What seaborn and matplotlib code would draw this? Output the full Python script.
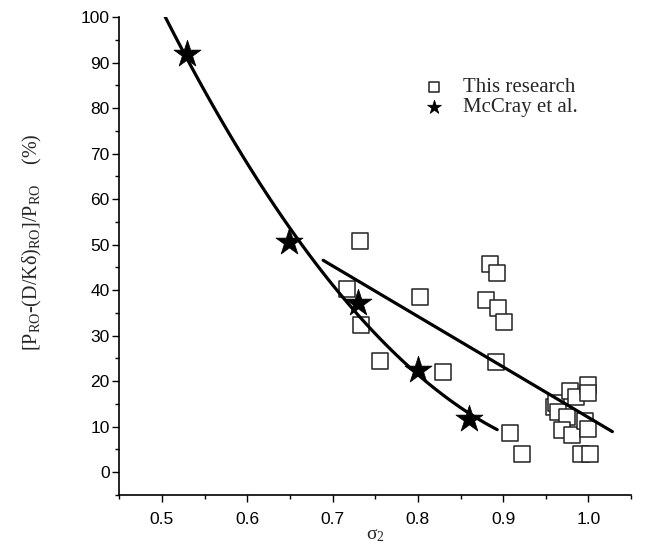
import matplotlib
matplotlib.use("Agg")
import matplotlib.pyplot as plt
import seaborn as sns
import pandas as pd
from matplotlib.ticker import MultipleLocator

# ---- data ----
this_x = [0.7316, 0.7171, 0.7328, 0.7555, 0.8024, 0.8290, 0.8846, 0.8932,
          0.8803, 0.8944, 0.9010, 0.8912, 0.9077, 0.9225,
          0.9600, 0.9620, 0.9640, 0.9750, 0.9695, 0.9780, 0.9850, 0.9810,
          0.9957, 0.9996, 0.9996, 0.9996, 0.9910, 1.0015]
this_y = [50.9, 40.2, 32.3, 24.5, 38.5, 22.1, 45.7, 43.7,
          37.9, 36.0, 32.9, 24.2, 8.7, 3.9,
          14.4, 15.2, 13.2, 12.2, 9.3, 17.9, 16.5, 8.2,
          11.3, 9.5, 19.2, 17.5, 3.9, 4.1]
mccray_x = [0.5293, 0.6494, 0.7297, 0.8001, 0.8600]
mccray_y = [91.8, 50.5, 37.2, 22.4, 11.8]

fit_span_this = (0.689, 1.028)     # extent of the fitted line (this research)
fit_span_mccray = (0.503, 0.893)   # extent of the fitted curve (McCray)

x_limits = (0.45, 1.05)
y_limits = (-5, 100)
x_major = [0.5, 0.6, 0.7, 0.8, 0.9, 1.0]
x_labels = ["0.5", "0.6", "0.7", "0.8", "0.9", "1.0"]
y_major = [0, 10, 20, 30, 40, 50, 60, 70, 80, 90, 100]

df_this = pd.DataFrame({"x": this_x, "y": this_y})
df_mc = pd.DataFrame({"x": mccray_x, "y": mccray_y})

sns.set_style("ticks")
plt.rcParams["font.family"] = ["Liberation Sans", "DejaVu Sans"]
plt.rcParams["mathtext.fontset"] = "custom"
plt.rcParams["mathtext.rm"] = "Liberation Serif"
plt.rcParams["mathtext.it"] = "Liberation Serif:italic"

fig = plt.figure(figsize=(6.7, 5.5), dpi=100)
ax = fig.add_axes([0.178, 0.1, 0.764, 0.869])

# squares (this research)
sns.scatterplot(data=df_this, x="x", y="y", marker="s", s=120,
                facecolor="white", edgecolor="#222222", linewidth=1.1,
                label="This research", zorder=2, ax=ax)

# fitted line for this research
ax.set_xlim(*fit_span_this)
sns.regplot(data=df_this, x="x", y="y", order=1, scatter=False, ci=None,
            truncate=False, color="black", line_kws=dict(lw=2.3, zorder=3),
            ax=ax)

# fitted curve for McCray
ax.set_xlim(*fit_span_mccray)
sns.regplot(data=df_mc, x="x", y="y", order=2, scatter=False, ci=None,
            truncate=False, color="black", line_kws=dict(lw=2.3, zorder=3),
            ax=ax)

# stars (McCray et al.)
sns.scatterplot(data=df_mc, x="x", y="y", marker="*", s=420,
                color="black", edgecolor="black", linewidth=0.5,
                label="McCray et al.", zorder=4, ax=ax)

ax.set_xlim(*x_limits)
ax.set_ylim(*y_limits)

ax.set_xticks(x_major)
ax.set_xticklabels(x_labels)
ax.xaxis.set_minor_locator(MultipleLocator(0.05))
ax.set_yticks(y_major)
ax.yaxis.set_minor_locator(MultipleLocator(5))

ax.tick_params(axis="both", which="major", direction="out", length=5,
               width=1.0, labelsize=12.5, color="black", labelcolor="black")
ax.tick_params(axis="both", which="minor", direction="out", length=3,
               width=1.0, color="black")
ax.tick_params(axis="x", which="major", pad=7)
ax.tick_params(axis="y", which="major", pad=2)

for s in ["top", "right"]:
    ax.spines[s].set_visible(False)
for s in ["left", "bottom"]:
    ax.spines[s].set_linewidth(1.2)
    ax.spines[s].set_color("black")

serif = ["Liberation Serif", "DejaVu Serif"]
ax.set_xlabel("σ$_{2}$", fontsize=14, family=serif, labelpad=0)
ax.set_ylabel("[P$_{\\rm RO}$-(D/Kδ)$_{\\rm RO}$]/P$_{\\rm RO}$    (%)",
              fontsize=14.5, family=serif)
ax.yaxis.set_label_coords(-0.148, 0.528)

leg = ax.legend(loc="upper left", bbox_to_anchor=(0.537, 0.912), frameon=False,
                handletextpad=0.4, labelspacing=0.0,
                prop={"family": ["Liberation Serif"], "size": 15})
handles = leg.legend_handles
handles[0].set_sizes([55])
handles[1].set_sizes([110])

fig.savefig("out.png", dpi=100)
